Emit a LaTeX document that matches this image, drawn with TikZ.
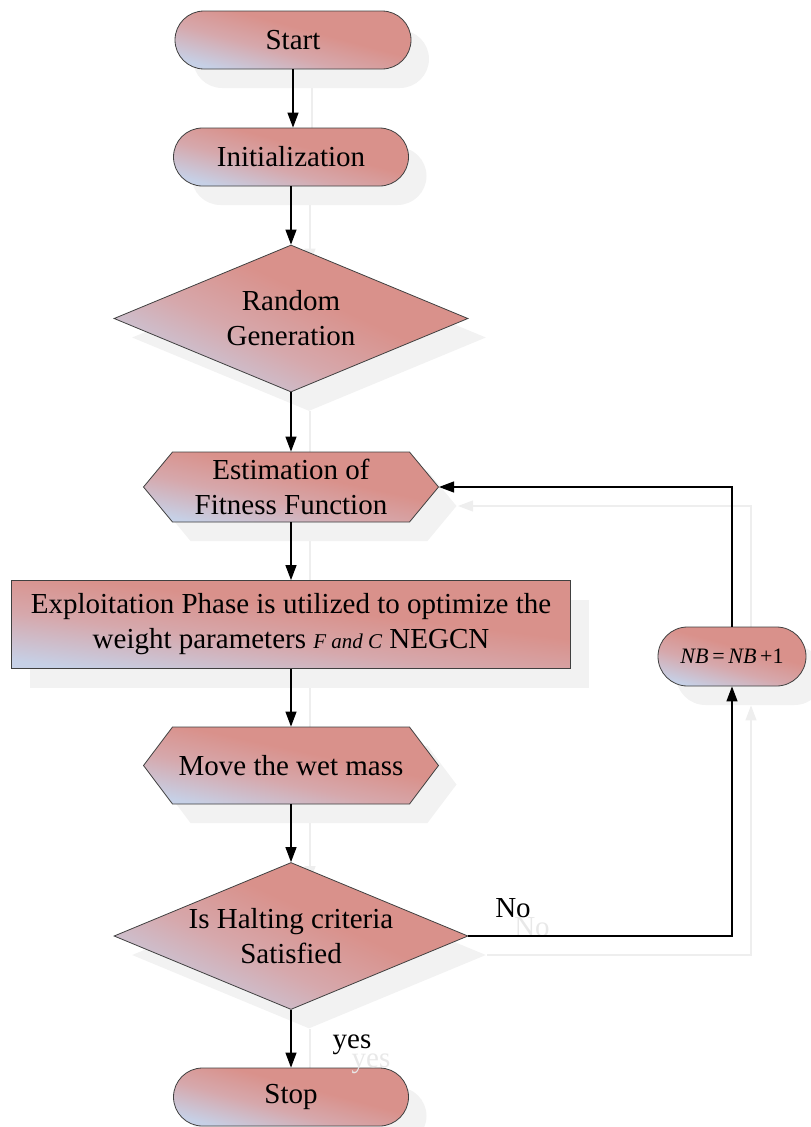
\documentclass[tikz,border=0pt]{standalone}
\usepackage{fontspec}
\setmainfont{Liberation Serif}
\usetikzlibrary{shapes.geometric,shapes.misc,shapes.symbols,shadows,arrows.meta,backgrounds}
\definecolor{cRed}{RGB}{217,145,139}
\definecolor{cMid}{RGB}{214,168,172}
\definecolor{cBlue}{RGB}{198,208,230}
\definecolor{shd}{RGB}{242,242,242}
\definecolor{shdline}{RGB}{238,238,238}
\definecolor{shdtext}{RGB}{232,232,232}
\pgfdeclareverticalshading{fcshade}{100bp}{color(0bp)=(cBlue); color(25bp)=(cBlue); color(42bp)=(cMid); color(57bp)=(cRed); color(100bp)=(cRed)}
\begin{document}
\begin{tikzpicture}[x=1pt,y=1pt]
\tikzset{
 base/.style={draw=black!75, line width=0.8pt, shading=fcshade, shading angle=-15,
   drop shadow={shadow xshift=18pt, shadow yshift=-19pt, fill=shd, draw=none, opacity=1},
   font=\fontsize{29}{35}\selectfont, align=center, inner sep=0pt},
 term/.style={base, rounded rectangle, minimum width=236pt, minimum height=58pt},
 proc/.style={base, rectangle, minimum width=559pt, minimum height=88pt, shading angle=-7},
 hexa/.style={base, signal, signal to=west and east, minimum width=295pt, shading angle=-12},
 deci/.style={base, diamond, aspect=2.4, minimum width=354pt, minimum height=147pt, shading angle=-25},
 arr/.style={line width=1.2pt, -{Triangle[length=15pt,width=11pt]}},
 sarr/.style={draw=shdline, line width=1.2pt, -{Triangle[length=15pt,width=11pt]}},
 lbl/.style={font=\fontsize{29}{35}\selectfont, inner sep=0pt},
 slbl/.style={lbl, text=shdtext},
}
\useasboundingbox (0,0) rectangle (811,-1127);

\node[term] (start) at (293,-40) {Start};
\node[term, minimum width=235pt] (init) at (291,-157) {Initialization};
\node[deci] (rand) at (291,-318.5) {Random\\Generation};
\node[hexa, minimum height=70pt, signal pointer angle=100.7] (est) at (291,-487) {Estimation of\\Fitness Function};
\node[proc] (expl) at (291,-624.5) {Exploitation Phase is utilized to optimize the\\weight parameters {\fontsize{21}{24}\selectfont\itshape F and C} NEGCN};
\node[hexa, minimum height=77pt, signal pointer angle=106] (move) at (291,-765.5) {Move the wet mass};
\node[deci] (halt) at (291,-936) {Is Halting criteria\\Satisfied};
\node[term, minimum width=235pt] (stop) at (291,-1097) {Stop};
\node[term, minimum width=148pt, minimum height=59pt, font=\fontsize{22}{26}\selectfont] (nb) at (732,-656.5) {\textit{NB}\,=\,\textit{NB}\,+1};

\node[slbl] (noS) at (532,-927) {No};
\node[slbl] (yesS) at (371,-1064) {yes};
\node[lbl] (no) at (513,-908) {No};
\node[lbl] (yes) at (352,-1045) {yes};

\begin{pgfonlayer}{background}
\draw[sarr] ([shift={(19,-19)}]start.south) -- ([shift={(19,-19)}]start.south |- init.north);
\draw[sarr] ([shift={(19,-19)}]init.south) -- ([shift={(19,-19)}]rand.north);
\draw[sarr] ([shift={(19,-19)}]rand.south) -- ([shift={(19,-19)}]est.north);
\draw[sarr] ([shift={(19,-19)}]est.south) -- ([shift={(19,-19)}]expl.north);
\draw[sarr] ([shift={(19,-19)}]expl.south) -- ([shift={(19,-19)}]move.north);
\draw[sarr] ([shift={(19,-19)}]move.south) -- ([shift={(19,-19)}]halt.north);
\draw[sarr] ([shift={(19,-19)}]halt.south) -- ([shift={(19,-19)}]stop.north);
\draw[sarr] ([shift={(19,-19)}]halt.east) -| ([shift={(19,-19)}]nb.south);
\draw[sarr] ([shift={(19,-19)}]nb.north) |- ([shift={(19,-19)}]est.east);
\end{pgfonlayer}

\draw[arr] (start.south) -- (start.south |- init.north);
\draw[arr] (init.south) -- (rand.north);
\draw[arr] (rand.south) -- (est.north);
\draw[arr] (est.south) -- (expl.north);
\draw[arr] (expl.south) -- (move.north);
\draw[arr] (move.south) -- (halt.north);
\draw[arr] (halt.south) -- (stop.north);
\draw[arr] (halt.east) -| (nb.south);
\draw[arr] (nb.north) |- (est.east);
\end{tikzpicture}
\end{document}
